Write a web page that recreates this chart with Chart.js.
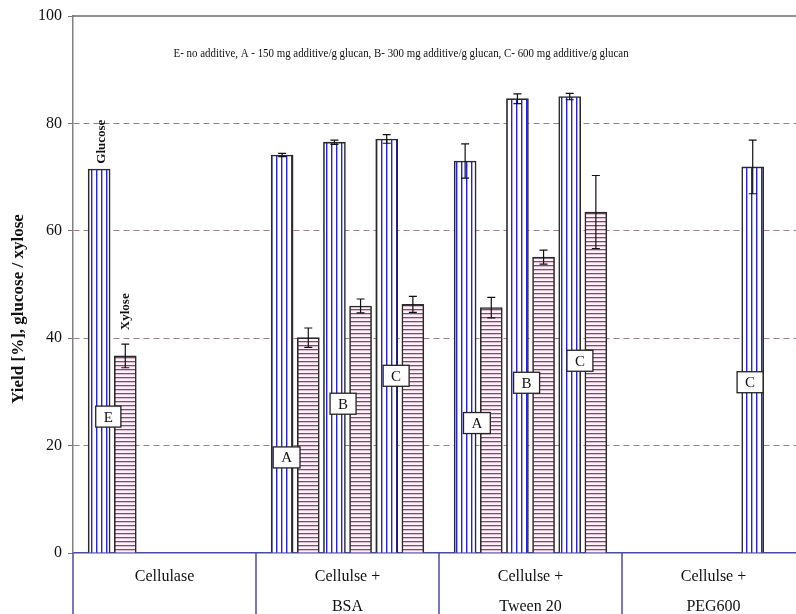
<!DOCTYPE html>
<html>
<head>
<meta charset="utf-8">
<script src="https://cdn.jsdelivr.net/npm/chart.js@4/dist/chart.umd.min.js"></script>
<style>
html, body { margin: 0; padding: 0; background: #fff; overflow: hidden; }
#wrap { width: 796px; height: 614px; overflow: hidden; }
canvas { display: block; }
</style>
</head>
<body>
<div id="wrap"><canvas id="chart" width="810" height="614"></canvas></div>
<script>
// Groups along the bottom
const groupNames = ['Cellulase', ['Cellulse +', 'BSA'], ['Cellulse +', 'Tween 20'], ['Cellulse +', 'PEG600']];

// One entry per glucose / xylose pair
const pairGroup = [0, 1, 1, 1, 2, 2, 2, 3];
const pairLevel = ['E', 'A', 'B', 'C', 'A', 'B', 'C', 'C'];
const glucoseYield = [71.5, 74.1, 76.5, 77.1, 73.0, 84.6, 85.0, 71.9];
const glucoseErr = [0, 0.3, 0.4, 0.8, 3.2, 0.9, 0.6, 5.0];
const xyloseYield = [36.7, 40.1, 46.0, 46.3, 45.7, 55.1, 63.5, null];
const xyloseErr = [2.2, 1.8, 1.3, 1.5, 1.9, 1.3, 6.8, null];

const yTicks = [0, 20, 40, 60, 80, 100];
const note = 'E- no additive, A - 150 mg additive/g glucan, B- 300 mg additive/g glucan, C- 600 mg additive/g glucan';

// where the letter boxes sit (axis units)
const letterSpot = [[1.35, 25.4], [8.17, 17.8], [10.33, 27.8], [12.36, 33.0], [15.45, 24.2], [17.35, 31.7], [19.39, 35.8], [25.9, 31.8]];

const serif = '"Liberation Serif", "Times New Roman", serif';
const slotOf = { E: 0, A: 0, B: 1, C: 2 };

function slotX(i, second) {
    return pairGroup[i] * 7 + slotOf[pairLevel[i]] * 2 + (second ? 2 : 1);
}

function stripes(vertical, lineColor, softColor, bg, period) {
    const c = document.createElement('canvas');
    c.width = vertical ? period : 4;
    c.height = vertical ? 4 : period;
    const g = c.getContext('2d');
    g.fillStyle = bg;
    g.fillRect(0, 0, c.width, c.height);
    g.fillStyle = lineColor;
    if (vertical) g.fillRect(1, 0, 1, c.height); else g.fillRect(0, 1, c.width, 1);
    g.fillStyle = softColor;
    if (vertical) g.fillRect(2, 0, 1, c.height); else g.fillRect(0, 2, c.width, 1);
    return g.createPattern(c, 'repeat');
}

const glucoseFill = stripes(true, '#2222e6', 'rgba(34,34,230,0.4)', '#ffffff', 5);
const xyloseFill = stripes(false, '#9a3c72', 'rgba(154,60,114,0.3)', '#fff4fa', 4);

const glucoseData = [];
const xyloseData = [];
for (let i = 0; i < pairLevel.length; i++) {
    glucoseData.push({ x: slotX(i, false), y: glucoseYield[i], err: glucoseErr[i] });
    if (xyloseYield[i] !== null) xyloseData.push({ x: slotX(i, true), y: xyloseYield[i], err: xyloseErr[i] });
}

const decor = {
    id: 'decor',
    beforeDatasetsDraw(chart) {
        const { ctx, chartArea: a, scales: { x, y } } = chart;
        ctx.save();
        ctx.strokeStyle = '#6a6a6a';
        ctx.lineWidth = 1.5;
        ctx.beginPath();
        ctx.moveTo(a.left, y.getPixelForValue(100));
        ctx.lineTo(a.right, y.getPixelForValue(100));
        ctx.stroke();
        ctx.fillStyle = '#111';
        ctx.font = '12px ' + serif;
        ctx.textAlign = 'center';
        ctx.textBaseline = 'middle';
        ctx.fillText(note, x.getPixelForValue(12.55), y.getPixelForValue(92.9), 455);
        ctx.restore();
    },
    afterDatasetsDraw(chart) {
        const { ctx, scales: { x, y } } = chart;
        ctx.save();
        // error bars
        ctx.strokeStyle = '#111';
        ctx.lineWidth = 1.2;
        chart.data.datasets.forEach((ds, d) => {
            chart.getDatasetMeta(d).data.forEach((bar, i) => {
                const p = ds.data[i];
                if (!p.err) return;
                const top = y.getPixelForValue(p.y + p.err);
                const bot = y.getPixelForValue(p.y - p.err);
                ctx.beginPath();
                ctx.moveTo(bar.x, top); ctx.lineTo(bar.x, bot);
                ctx.moveTo(bar.x - 4, top); ctx.lineTo(bar.x + 4, top);
                ctx.moveTo(bar.x - 4, bot); ctx.lineTo(bar.x + 4, bot);
                ctx.stroke();
            });
        });
        // series names above the first pair
        ctx.fillStyle = '#111';
        ctx.font = 'bold 13px ' + serif;
        ctx.textAlign = 'left';
        ctx.textBaseline = 'middle';
        [['Glucose', slotX(0, false) + 0.08, 72.5], ['Xylose', slotX(0, true), 41.5]].forEach(([t, vx, vy]) => {
            ctx.save();
            ctx.translate(x.getPixelForValue(vx), y.getPixelForValue(vy));
            ctx.rotate(-Math.PI / 2);
            ctx.fillText(t, 0, 0);
            ctx.restore();
        });
        // letter boxes
        ctx.font = '15px ' + serif;
        ctx.textAlign = 'center';
        pairLevel.forEach((t, i) => {
            const cx = x.getPixelForValue(letterSpot[i][0]);
            const cy = y.getPixelForValue(letterSpot[i][1]);
            const w = ctx.measureText(t).width + 16;
            const h = 21;
            ctx.fillStyle = '#fff';
            ctx.fillRect(cx - w / 2, cy - h / 2, w, h);
            ctx.strokeStyle = '#222';
            ctx.lineWidth = 1.3;
            ctx.strokeRect(cx - w / 2, cy - h / 2, w, h);
            ctx.fillStyle = '#111';
            ctx.fillText(t, cx, cy + 1);
        });
        ctx.restore();
    },
    afterDraw(chart) {
        const { ctx, chartArea: a, scales: { x } } = chart;
        ctx.save();
        // group separators below the axis
        ctx.strokeStyle = '#4a4aa6';
        ctx.lineWidth = 1.5;
        for (let g = 0; g <= groupNames.length; g++) {
            const px = x.getPixelForValue(g * 7);
            ctx.beginPath();
            ctx.moveTo(px, a.bottom);
            ctx.lineTo(px, chart.height);
            ctx.stroke();
        }
        // y axis title
        ctx.fillStyle = '#111';
        ctx.font = 'bold 17px ' + serif;
        ctx.textAlign = 'center';
        ctx.textBaseline = 'middle';
        ctx.translate(19, 309);
        ctx.rotate(-Math.PI / 2);
        ctx.fillText('Yield [%], glucose / xylose', 0, 0);
        ctx.restore();
    }
};

const ctx = document.getElementById('chart').getContext('2d');
new Chart(ctx, {
    type: 'bar',
    data: {
        datasets: [
            { label: 'Glucose', data: glucoseData, backgroundColor: glucoseFill, borderColor: '#2a2a2a', borderWidth: 1.6 },
            { label: 'Xylose', data: xyloseData, backgroundColor: xyloseFill, borderColor: '#2a2a2a', borderWidth: 1.6 }
        ]
    },
    options: {
        responsive: false,
        devicePixelRatio: 1,
        animation: false,
        grouped: false,
        barThickness: 22,
        layout: { padding: { top: 16, right: 5, left: 0, bottom: 0 } },
        plugins: { legend: { display: false }, tooltip: { enabled: false } },
        scales: {
            x: {
                type: 'linear',
                min: 0,
                max: 28,
                offset: false,
                afterBuildTicks: s => { s.ticks = groupNames.map((_, i) => ({ value: i * 7 + 3.5 })); },
                afterFit: s => { s.height = 61; },
                ticks: {
                    autoSkip: false,
                    maxRotation: 0,
                    padding: 9,
                    color: '#111',
                    font: { family: serif, size: 16, lineHeight: 30 / 16 },
                    callback: (v, i) => groupNames[i]
                },
                grid: { display: false, drawTicks: false, offset: false },
                border: { color: '#4a4aa6', width: 1.5 }
            },
            y: {
                min: 0,
                max: 100,
                afterBuildTicks: s => { s.ticks = yTicks.map(v => ({ value: v })); },
                afterFit: s => { s.width = 73; },
                ticks: { color: '#111', padding: 6, font: { family: serif, size: 16 } },
                grid: {
                    color: c => (c.tick && c.tick.value > 0 && c.tick.value < 100) ? '#9a7f8c' : 'rgba(0,0,0,0)',
                    lineWidth: 1,
                    tickLength: 5,
                    tickColor: '#777'
                },
                border: { color: '#808080', width: 1.5, dash: [6, 4] }
            }
        }
    },
    plugins: [decor]
});
</script>
</body>
</html>
